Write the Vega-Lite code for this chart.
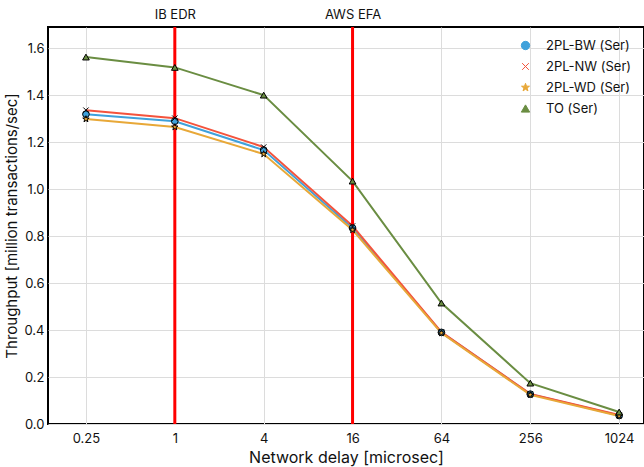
{
  "$schema": "https://vega.github.io/schema/vega-lite/v6.json",
  "width": 596,
  "height": 397,
  "autosize": {"type": "none"},
  "padding": {"left": 48, "top": 27, "right": 0, "bottom": 43},
  "config": {
    "font": "Inter",
    "view": {"stroke": "black", "strokeWidth": 2},
    "axis": {
      "domain": false,
      "ticks": false,
      "gridColor": "#dcdcdc",
      "gridWidth": 1,
      "labelFont": "Inter",
      "labelFontSize": 13,
      "labelColor": "#111",
      "titleFont": "Inter",
      "titleFontSize": 16,
      "titleFontWeight": "normal",
      "titleColor": "#111"
    },
    "legend": {
      "labelFont": "Inter", "labelFontSize": 13, "labelColor": "#111",
      "title": null, "orient": "top-right", "offset": 12,
      "symbolStrokeColor": "black", "symbolStrokeWidth": 1, "symbolSize": 70,
      "rowPadding": 7, "labelOffset": 14
    }
  },
  "datasets": {
    "series": [
      {"delay": 0.25, "tp": 1.319, "series": "2PL-BW (Ser)"},
      {"delay": 1, "tp": 1.289, "series": "2PL-BW (Ser)"},
      {"delay": 4, "tp": 1.166, "series": "2PL-BW (Ser)"},
      {"delay": 16, "tp": 0.834, "series": "2PL-BW (Ser)"},
      {"delay": 64, "tp": 0.39, "series": "2PL-BW (Ser)"},
      {"delay": 256, "tp": 0.127, "series": "2PL-BW (Ser)"},
      {"delay": 1024, "tp": 0.036, "series": "2PL-BW (Ser)"},
      {"delay": 0.25, "tp": 1.336, "series": "2PL-NW (Ser)"},
      {"delay": 1, "tp": 1.302, "series": "2PL-NW (Ser)"},
      {"delay": 4, "tp": 1.179, "series": "2PL-NW (Ser)"},
      {"delay": 16, "tp": 0.843, "series": "2PL-NW (Ser)"},
      {"delay": 64, "tp": 0.391, "series": "2PL-NW (Ser)"},
      {"delay": 256, "tp": 0.128, "series": "2PL-NW (Ser)"},
      {"delay": 1024, "tp": 0.038, "series": "2PL-NW (Ser)"},
      {"delay": 0.25, "tp": 1.298, "series": "2PL-WD (Ser)"},
      {"delay": 1, "tp": 1.264, "series": "2PL-WD (Ser)"},
      {"delay": 4, "tp": 1.149, "series": "2PL-WD (Ser)"},
      {"delay": 16, "tp": 0.826, "series": "2PL-WD (Ser)"},
      {"delay": 64, "tp": 0.387, "series": "2PL-WD (Ser)"},
      {"delay": 256, "tp": 0.124, "series": "2PL-WD (Ser)"},
      {"delay": 1024, "tp": 0.034, "series": "2PL-WD (Ser)"},
      {"delay": 0.25, "tp": 1.562, "series": "TO (Ser)"},
      {"delay": 1, "tp": 1.518, "series": "TO (Ser)"},
      {"delay": 4, "tp": 1.40, "series": "TO (Ser)"},
      {"delay": 16, "tp": 1.034, "series": "TO (Ser)"},
      {"delay": 64, "tp": 0.515, "series": "TO (Ser)"},
      {"delay": 256, "tp": 0.174, "series": "TO (Ser)"},
      {"delay": 1024, "tp": 0.051, "series": "TO (Ser)"}
    ],
    "markers": [
      {"delay": 1, "name": "IB EDR"},
      {"delay": 16, "name": "AWS EFA"}
    ]
  },
  "layer": [
    {
      "data": {"name": "series"},
      "mark": {"type": "line", "strokeWidth": 2},
      "encoding": {
        "x": {
          "field": "delay", "type": "quantitative",
          "scale": {"type": "log", "base": 2, "domain": [0.1383, 1509], "nice": false},
          "axis": {
            "orient": "bottom",
            "title": "Network delay [microsec]",
            "values": [0.25, 1, 4, 16, 64, 256, 1024],
            "labelExpr": "datum.value == 0.25 ? '0.25' : format(datum.value, 'd')",
            "labelPadding": 8,
            "titlePadding": 4
          }
        },
        "y": {
          "field": "tp", "type": "quantitative",
          "scale": {"domain": [0, 1.69], "nice": false},
          "axis": {
            "title": "Throughput [million transactions/sec]",
            "values": [0, 0.2, 0.4, 0.6, 0.8, 1.0, 1.2, 1.4, 1.6],
            "format": ".1f",
            "labelPadding": 4,
            "titlePadding": 4,
            "titleFontSize": 15
          }
        },
        "stroke": {
          "field": "series", "type": "nominal",
          "scale": {
            "domain": ["2PL-BW (Ser)", "2PL-NW (Ser)", "2PL-WD (Ser)", "TO (Ser)"],
            "range": ["#3fa1db", "#f4533c", "#e8a838", "#6a8d42"]
          },
          "legend": {
            "encode": {"symbols": {"update": {"stroke": {"value": "black"}, "strokeWidth": {"value": 1}}}}
          }
        }
      }
    },
    {
      "data": {"name": "markers"},
      "mark": {"type": "rule", "color": "#ff0000", "strokeWidth": 3},
      "encoding": {
        "x": {
          "field": "delay", "type": "quantitative",
          "axis": {
            "orient": "top",
            "title": null,
            "grid": false,
            "values": [1, 16],
            "labelExpr": "datum.value == 1 ? 'IB EDR' : 'AWS EFA'",
            "labelPadding": 6,
            "labelFontSize": 13
          }
        }
      }
    },
    {
      "data": {"name": "series"},
      "mark": {"type": "point", "filled": true, "stroke": "black", "strokeWidth": 1, "size": 45, "opacity": 1},
      "encoding": {
        "x": {"field": "delay", "type": "quantitative", "axis": null},
        "y": {"field": "tp", "type": "quantitative"},
        "fill": {
          "field": "series", "type": "nominal",
          "scale": {
            "domain": ["2PL-BW (Ser)", "2PL-NW (Ser)", "2PL-WD (Ser)", "TO (Ser)"],
            "range": ["#3fa1db", "#f4533c", "#e8a838", "#6a8d42"]
          }
        },
        "shape": {
          "field": "series", "type": "nominal",
          "scale": {
            "domain": ["2PL-BW (Ser)", "2PL-NW (Ser)", "2PL-WD (Ser)", "TO (Ser)"],
            "range": [
              "circle",
              "M-0.8,-0.8L0.8,0.8M-0.8,0.8L0.8,-0.8",
              "M0,-1L0.235,-0.324L0.951,-0.309L0.38,0.124L0.588,0.809L0,0.4L-0.588,0.809L-0.38,0.124L-0.951,-0.309L-0.235,-0.324Z",
              "triangle-up"
            ]
          }
        }
      }
    }
  ]
}
